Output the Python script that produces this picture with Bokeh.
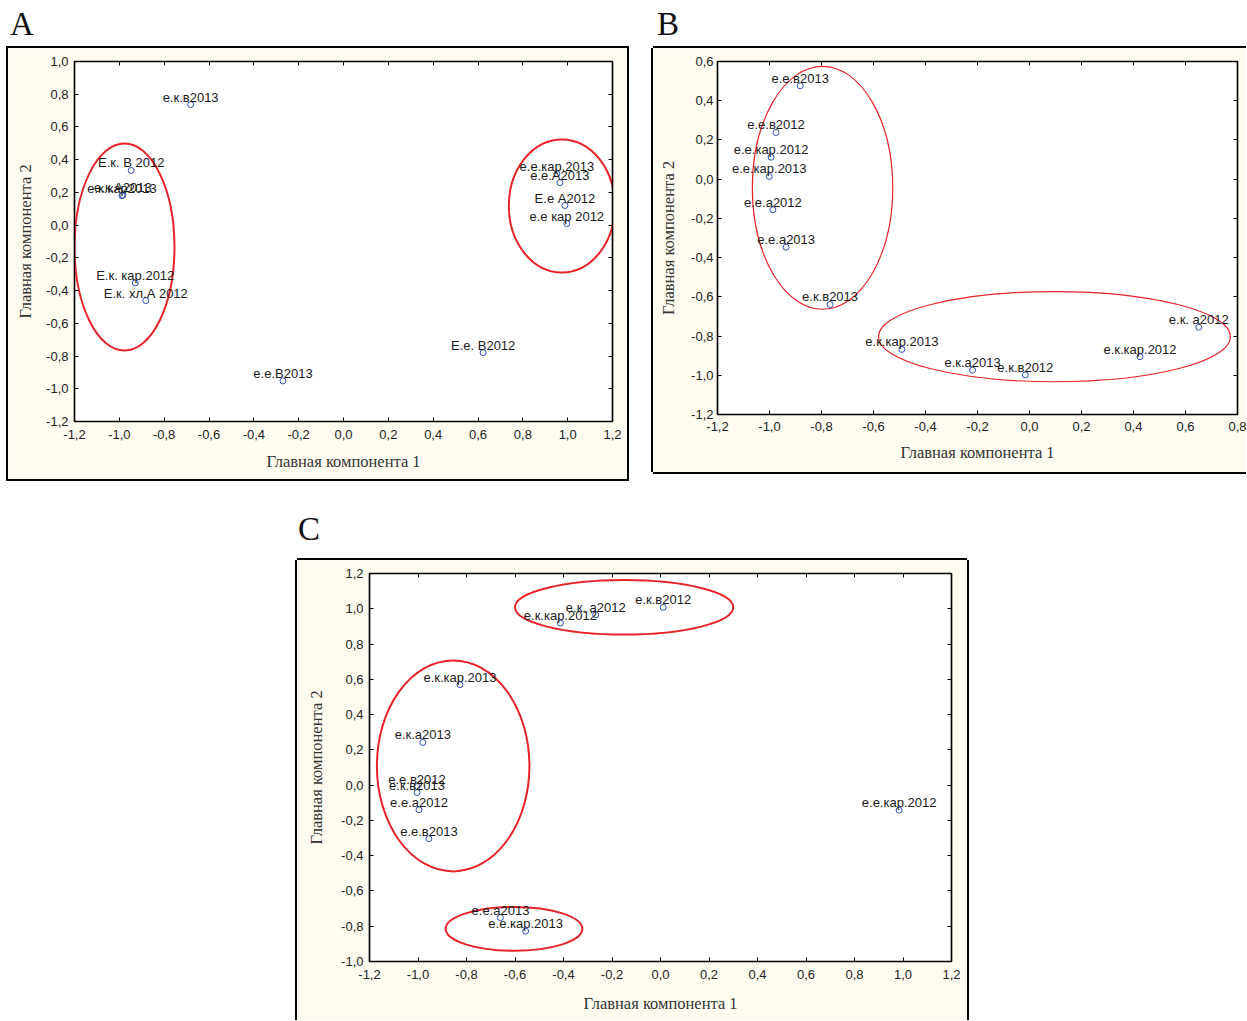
from bokeh.plotting import figure
from bokeh.models import LinearAxis, Range1d, Div, Spacer, CustomLabelingPolicy
from bokeh.layouts import row, column
from bokeh.core.properties import value
from bokeh.embed import file_html
from bokeh.resources import INLINE

# ---------------- data: panel A ----------------
A_labels = ["е.к.в2013", "Е.к. В 2012", "е.к.кар2013", "е.к.А2013", "Е.к. кар.2012",
            "Е.к. хл.А 2012", "е.е.кар.2013", "е.е.А2013", "Е.е А2012", "е.е кар 2012",
            "Е.е. В2012", "е.е.В2013"]
A_x = [-0.682, -0.947, -0.988, -0.984, -0.929, -0.882, 0.952, 0.965, 0.988, 0.996, 0.623, -0.270]
A_y = [0.737, 0.334, 0.180, 0.183, -0.353, -0.461, 0.315, 0.260, 0.120, 0.010, -0.779, -0.952]
A_ell_x = [-0.977, 0.974]
A_ell_y = [-0.134, 0.117]
A_ell_w = [0.446, 0.473]
A_ell_h = [1.265, 0.813]
A_xticks = [-1.2, -1.0, -0.8, -0.6, -0.4, -0.2, 0.0, 0.2, 0.4, 0.6, 0.8, 1.0, 1.2]
A_xtick_labels = ["-1,2", "-1,0", "-0,8", "-0,6", "-0,4", "-0,2", "0,0", "0,2", "0,4", "0,6", "0,8", "1,0", "1,2"]
A_yticks = [-1.2, -1.0, -0.8, -0.6, -0.4, -0.2, 0.0, 0.2, 0.4, 0.6, 0.8, 1.0]
A_ytick_labels = ["-1,2", "-1,0", "-0,8", "-0,6", "-0,4", "-0,2", "0,0", "0,2", "0,4", "0,6", "0,8", "1,0"]

# ---------------- data: panel B ----------------
B_labels = ["е.е.в2013", "е.е.в2012", "е.е.кар.2012", "е.е.кар.2013", "е.е.а2012", "е.е.а2013",
            "е.к.в2013", "е.к.кар.2013", "е.к.а2013", "е.к.в2012", "е.к.кар.2012", "е.к. а2012"]
B_x = [-0.882, -0.975, -0.994, -1.001, -0.987, -0.936, -0.767, -0.491, -0.219, -0.016, 0.425, 0.651]
B_y = [0.476, 0.238, 0.112, 0.014, -0.156, -0.347, -0.639, -0.868, -0.974, -0.998, -0.905, -0.755]
B_ell_x = [-0.796, 0.096]
B_ell_y = [-0.044, -0.803]
B_ell_w = [0.540, 1.354]
B_ell_h = [1.239, 0.460]
B_xticks = [-1.2, -1.0, -0.8, -0.6, -0.4, -0.2, 0.0, 0.2, 0.4, 0.6, 0.8]
B_xtick_labels = ["-1,2", "-1,0", "-0,8", "-0,6", "-0,4", "-0,2", "0,0", "0,2", "0,4", "0,6", "0,8"]
B_yticks = [-1.2, -1.0, -0.8, -0.6, -0.4, -0.2, 0.0, 0.2, 0.4, 0.6]
B_ytick_labels = ["-1,2", "-1,0", "-0,8", "-0,6", "-0,4", "-0,2", "0,0", "0,2", "0,4", "0,6"]

# ---------------- data: panel C ----------------
C_labels = ["е.к.в2012", "е.к. а2012", "е.к.кар.2012", "е.к.кар.2013", "е.к.а2013", "е.е.в2012",
            "е.к.в2013", "е.е.а2012", "е.е.в2013", "е.е.а2013", "е.е.кар.2013", "е.е.кар.2012"]
C_x = [0.011, -0.267, -0.413, -0.827, -0.980, -1.004, -1.004, -0.996, -0.955, -0.660, -0.556, 0.984]
C_y = [1.008, 0.966, 0.919, 0.570, 0.242, -0.008, -0.042, -0.140, -0.304, -0.751, -0.828, -0.142]
C_ell_x = [-0.150, -0.855, -0.604]
C_ell_y = [1.008, 0.109, -0.815]
C_ell_w = [0.900, 0.629, 0.564]
C_ell_h = [0.309, 1.196, 0.249]
C_xticks = [-1.2, -1.0, -0.8, -0.6, -0.4, -0.2, 0.0, 0.2, 0.4, 0.6, 0.8, 1.0, 1.2]
C_xtick_labels = ["-1,2", "-1,0", "-0,8", "-0,6", "-0,4", "-0,2", "0,0", "0,2", "0,4", "0,6", "0,8", "1,0", "1,2"]
C_yticks = [-1.0, -0.8, -0.6, -0.4, -0.2, 0.0, 0.2, 0.4, 0.6, 0.8, 1.0, 1.2]
C_ytick_labels = ["-1,0", "-0,8", "-0,6", "-0,4", "-0,2", "0,0", "0,2", "0,4", "0,6", "0,8", "1,0", "1,2"]

XLABEL = "Главная компонента 1"
YLABEL = "Главная компонента 2"

CREAM = "#fffbf0"
RED = "#e5242a"
BLUE = "#2f4fb5"
TICK_FONT = "Liberation Sans"
SERIF = "Liberation Serif"

NO_LABELS = "for (let i = 0; i < indices.size; i++) { indices.unset(i) }\nreturn indices"


def style_axis(ax, ticks, labels, show_labels=True, standoff=6):
    ax.ticker = ticks
    ax.major_tick_in = 4
    ax.major_tick_out = 0
    ax.major_tick_line_color = "black"
    ax.minor_tick_line_color = None
    ax.axis_line_color = "black"
    ax.axis_line_width = 1.2
    ax.major_label_text_font = TICK_FONT
    ax.major_label_text_color = "#222222"
    if show_labels:
        ax.major_label_standoff = standoff
        ax.major_label_text_font_size = "13px"
        ax.major_label_overrides = dict(zip(ticks, labels))
    else:
        ax.major_label_standoff = 0
        ax.major_label_text_font_size = "0px"
        ax.major_label_policy = CustomLabelingPolicy(code=NO_LABELS)


def panel(width, height, xr, yr, borders, xticks, xlabels, yticks, ylabels,
          labels, xs, ys, ex, ey, ew, eh, ell_width, shadow,
          ylab_standoff, xlab_standoff, ytick_standoff, xtick_standoff):
    p = figure(width=width, height=height, x_range=Range1d(*xr), y_range=Range1d(*yr),
               output_backend="svg", toolbar_location=None,
               min_border_left=borders[0], min_border_right=borders[1],
               min_border_top=borders[2], min_border_bottom=borders[3],
               background_fill_color="white", border_fill_color=CREAM,
               styles={"box-shadow": shadow})
    p.grid.visible = False
    p.outline_line_color = "black"
    p.outline_line_width = 1.5
    bottom = p.xaxis[0]
    left = p.yaxis[0]
    style_axis(bottom, xticks, xlabels, True, xtick_standoff)
    style_axis(left, yticks, ylabels, True, ytick_standoff)
    top = LinearAxis()
    style_axis(top, xticks, xlabels, False)
    p.add_layout(top, "above")
    right = LinearAxis()
    style_axis(right, yticks, ylabels, False)
    p.add_layout(right, "right")
    for ax, lab, so in ((bottom, XLABEL, xlab_standoff), (left, YLABEL, ylab_standoff)):
        ax.axis_label = lab
        ax.axis_label_text_font = SERIF
        ax.axis_label_text_font_size = "16.5px"
        ax.axis_label_text_font_style = "normal"
        ax.axis_label_text_color = "#333333"
        ax.axis_label_standoff = so
    p.ellipse(x=ex, y=ey, width=ew, height=eh, fill_color=None,
              line_color=RED, line_width=ell_width)
    p.scatter(xs, ys, marker="circle", size=6, fill_color=None,
              line_color=BLUE, line_width=1)
    p.text(x=xs, y=ys, text=labels, text_font=value(TICK_FONT), text_font_size="13px",
           text_align="center", text_baseline="bottom",
           text_color="#1a1a1a")
    return p


pA = panel(619, 431, (-1.2, 1.2), (-1.2, 1.0), (66, 15, 13, 58),
           A_xticks, A_xtick_labels, A_yticks, A_ytick_labels,
           A_labels, A_x, A_y, A_ell_x, A_ell_y, A_ell_w, A_ell_h, 2,
           "0 0 0 2px #000", 8, 10, 6, 8)
pB = panel(593, 424, (-1.2, 0.8), (-1.2, 0.6), (64, 9, 13, 51),
           B_xticks, B_xtick_labels, B_yticks, B_ytick_labels,
           B_labels, B_x, B_y, B_ell_x, B_ell_y, B_ell_w, B_ell_h, 1.2,
           "-2px 0 0 0 #000, 0 -2px 0 0 #000, 0 2px 0 0 #000", 10, 9, 4, 7)
pC = panel(670, 460, (-1.2, 1.2), (-1.0, 1.2), (72, 16, 13, 59),
           C_xticks, C_xtick_labels, C_yticks, C_ytick_labels,
           C_labels, C_x, C_y, C_ell_x, C_ell_y, C_ell_w, C_ell_h, 2,
           "-2px 0 0 0 #000, 2px 0 0 0 #000, 0 -2px 0 0 #000", 12, 12, 6, 8)

letter_style = {"font-family": SERIF, "font-size": "33px", "line-height": "1", "color": "#111111"}
divA = Div(text="<div style='padding-left:2px'>A</div>", width=645, height=40,
           styles=letter_style, margin=(0, 0, 0, 0))
divB = Div(text="<div style='padding-left:4px'>B</div>", width=593, height=40,
           styles=letter_style, margin=(0, 0, 0, 0))
divC = Div(text="<div style='padding-left:1px'>C</div>", width=670, height=47,
           styles=letter_style, margin=(0, 0, 0, 0))

layout = column(
    Spacer(width=10, height=8),
    row(Spacer(width=8, height=10), divA, divB),
    row(Spacer(width=8, height=10), pA, Spacer(width=26, height=10), pB),
    Spacer(width=10, height=34),
    row(Spacer(width=297, height=10), divC),
    row(Spacer(width=297, height=10), pC),
)

open("out.html", "w").write(file_html(layout, INLINE))
